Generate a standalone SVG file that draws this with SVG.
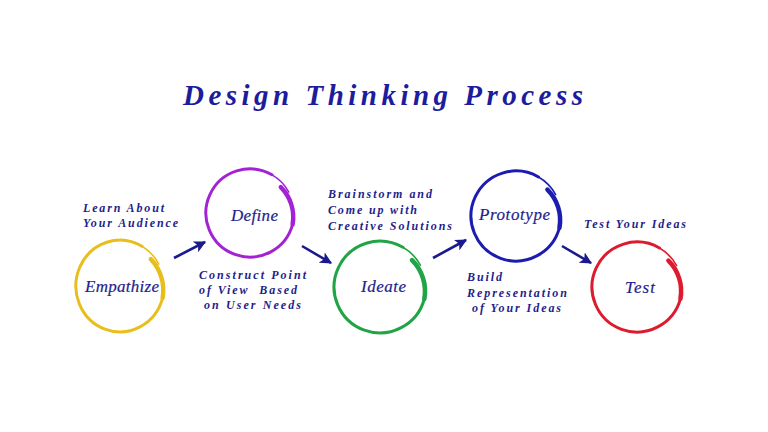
<svg xmlns="http://www.w3.org/2000/svg" width="768" height="432" viewBox="0 0 768 432">
<defs>
<style>
.ring{fill:none;stroke-linecap:round}
.main{stroke-width:3}
.tail{stroke-width:1.6}
.inner{stroke-width:4.5}
.lbl{font-family:"Liberation Serif","Times New Roman",serif;font-style:italic;font-weight:bold;font-size:12px;fill:#1E1E8C}
.node{font-family:"Liberation Serif","Times New Roman",serif;font-style:italic;font-size:17px;fill:#1E1E8C;stroke:#1E1E8C;stroke-width:0.2;text-anchor:start}
.title{font-family:"Liberation Serif","Times New Roman",serif;font-style:italic;font-weight:bold;font-size:29px;fill:#1C1C9C}
.arr{stroke:#1A1A8C;stroke-width:2.6;fill:none}
</style>
<marker id="ah" viewBox="0 0 10 10" refX="9" refY="5" markerWidth="4.6" markerHeight="4.6" orient="auto" markerUnits="strokeWidth">
<path d="M0,0 L10,5 L0,10 L2.5,5 Z" fill="#1A1A8C"/>
</marker>
<g id="ringshape">
<path class="ring main" d="M43.47,11.65 A45,45 0 1 1 22.5,-38.97"/>
<path class="ring tail" d="M22.5,-38.97 A45,45 0 0 1 39.6,-21.4"/>
<path class="ring inner" d="M31.41,-26.35 A43,43 0 0 1 43.47,11.65"/>
</g>
</defs>
<rect width="768" height="432" fill="#FFFFFF"/>
<text class="title" x="183" y="105" textLength="400" lengthAdjust="spacing">Design Thinking Process</text>

<g id="connectors">
<line class="arr" x1="174" y1="258" x2="205" y2="242" marker-end="url(#ah)"/>
<line class="arr" x1="302" y1="246" x2="331" y2="263" marker-end="url(#ah)"/>
<line class="arr" x1="433" y1="258" x2="466" y2="240" marker-end="url(#ah)"/>
<line class="arr" x1="562" y1="246" x2="591" y2="263" marker-end="url(#ah)"/>
</g>

<g id="empathize">
<use href="#ringshape" transform="translate(120,286) scale(0.98,1.02)" stroke="#E8BE1C"/>
<text class="node" x="85" y="292" textLength="74" lengthAdjust="spacing">Empathize</text>
</g>
<g id="define">
<use href="#ringshape" transform="translate(250,213) scale(0.98)" stroke="#A323D4"/>
<text class="node" x="231" y="221" textLength="47" lengthAdjust="spacing">Define</text>
</g>
<g id="ideate">
<use href="#ringshape" transform="translate(380,287) scale(1.02)" stroke="#21A445"/>
<text class="node" x="361" y="292" textLength="45" lengthAdjust="spacing">Ideate</text>
</g>
<g id="prototype">
<use href="#ringshape" transform="translate(516,216)" stroke="#1C1CB0"/>
<text class="node" x="479" y="220" textLength="71" lengthAdjust="spacing">Prototype</text>
</g>
<g id="test">
<use href="#ringshape" transform="translate(637,287)" stroke="#DE1B2E"/>
<text class="node" x="625" y="293" textLength="30" lengthAdjust="spacing">Test</text>
</g>

<g id="labels">
<text class="lbl" x="83" y="212" textLength="81" lengthAdjust="spacing">Learn About</text>
<text class="lbl" x="83" y="227" textLength="95" lengthAdjust="spacing">Your Audience</text>
<text class="lbl" x="199" y="279" textLength="107" lengthAdjust="spacing">Construct Point</text>
<text class="lbl" x="199" y="294" textLength="98" lengthAdjust="spacing" xml:space="preserve">of View  Based</text>
<text class="lbl" x="204" y="309" textLength="97" lengthAdjust="spacing">on User Needs</text>
<text class="lbl" x="328" y="198" textLength="104" lengthAdjust="spacing">Brainstorm and</text>
<text class="lbl" x="328" y="214" textLength="89" lengthAdjust="spacing">Come up with</text>
<text class="lbl" x="328" y="230" textLength="124" lengthAdjust="spacing">Creative Solutions</text>
<text class="lbl" x="467" y="281" textLength="35" lengthAdjust="spacing">Build</text>
<text class="lbl" x="467" y="297" textLength="100" lengthAdjust="spacing">Representation</text>
<text class="lbl" x="472" y="312" textLength="89" lengthAdjust="spacing">of Your Ideas</text>
<text class="lbl" x="584" y="228" textLength="102" lengthAdjust="spacing">Test Your Ideas</text>
</g>
</svg>
